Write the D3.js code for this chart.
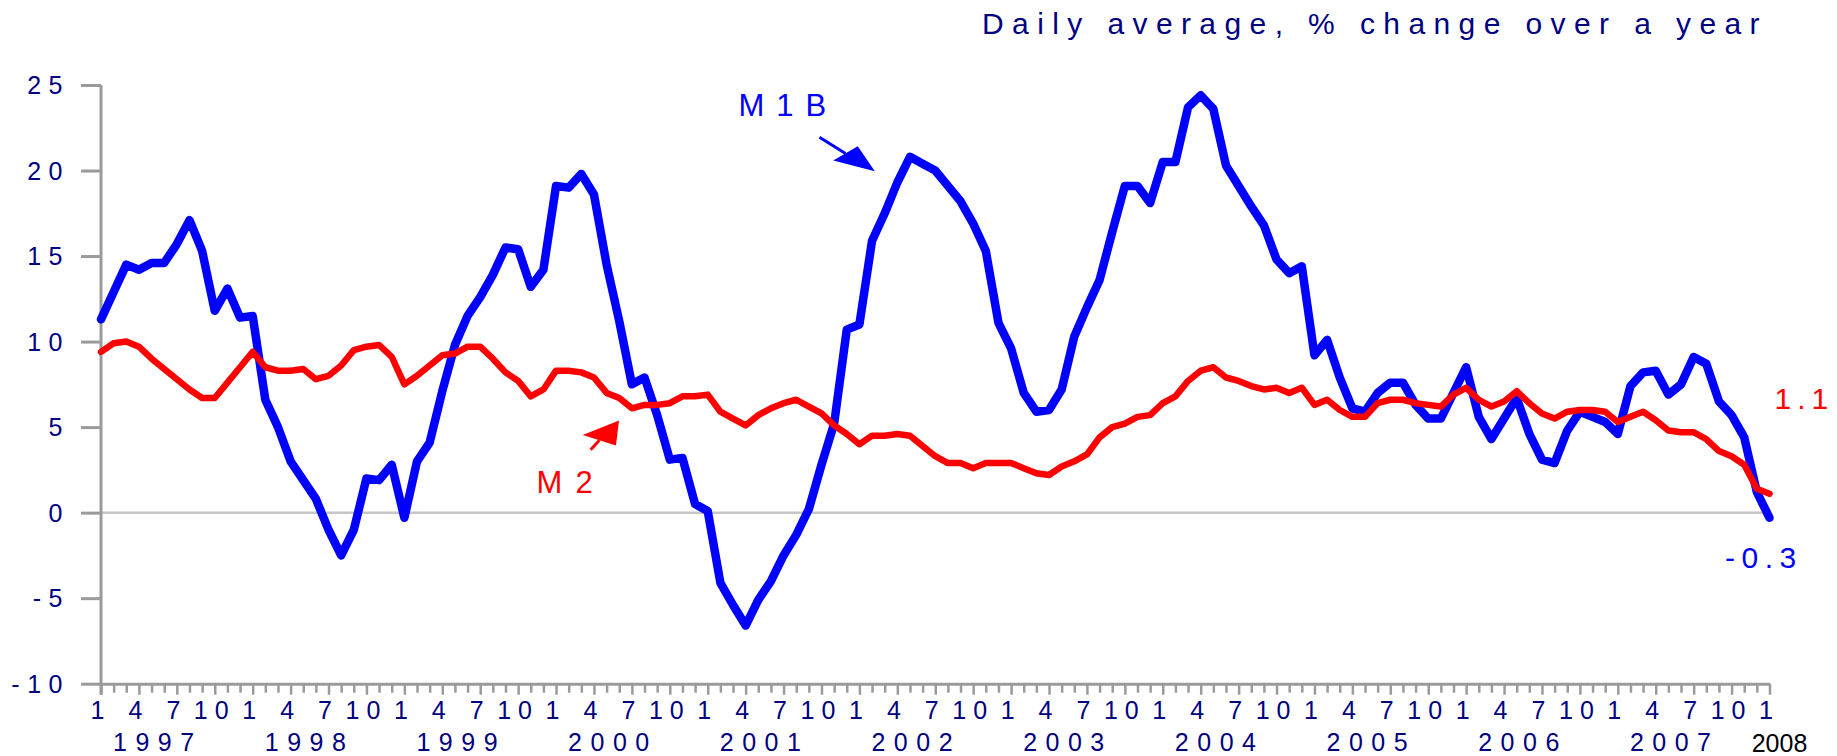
<!DOCTYPE html>
<html>
<head>
<meta charset="utf-8">
<title>M1B and M2</title>
<script src="https://d3js.org/d3.v7.min.js"></script>
<style>
	body {margin:0; background:#fff;}
	text {font-family:"Liberation Sans", Arial, sans-serif;}
</style>
</head>
<body>
<div id="chart"></div>
<script>
// monthly values, Jan 1997 .. Jan 2008
var monthLabels = ["1","4","7","10"];
var years = ["1997","1998","1999","2000","2001","2002","2003","2004","2005","2006","2007"];
var lastYear = "2008";
var yTicks = [-10,-5,0,5,10,15,20,25];

var m1b = [
	11.3,12.9,14.5,14.2,14.6,14.6,15.7,17.1,15.3,11.8,13.1,11.4,
	11.5,6.6,5.0,3.0,1.9,0.8,-1.0,-2.5,-1.0,2.0,1.9,2.8,
	-0.3,3.0,4.1,7.1,9.8,11.5,12.6,13.9,15.5,15.4,13.2,14.2,
	19.1,19.0,19.8,18.6,14.5,11.2,7.5,7.9,5.7,3.1,3.2,0.5,
	0.1,-4.1,-5.4,-6.6,-5.1,-4.0,-2.5,-1.3,0.2,2.8,5.2,10.7,
	11.0,15.9,17.5,19.3,20.8,20.4,20.0,19.1,18.2,16.9,15.3,11.1,
	9.6,7.0,5.9,6.0,7.2,10.3,12.0,13.6,16.4,19.1,19.1,18.1,
	20.5,20.5,23.7,24.4,23.6,20.3,19.1,17.9,16.8,14.8,14.0,14.4,
	9.2,10.1,7.9,6.1,5.9,7.0,7.6,7.6,6.3,5.5,5.5,7.0,
	8.5,5.6,4.3,5.5,6.7,4.6,3.1,2.9,4.8,5.9,5.6,5.3,
	4.6,7.4,8.2,8.3,6.9,7.5,9.1,8.7,6.5,5.7,4.4,1.2,
	-0.3
];

var m2 = [
	9.4,9.9,10.0,9.7,9.0,8.4,7.8,7.2,6.7,6.7,7.6,8.5,
	9.4,8.5,8.3,8.3,8.4,7.8,8.0,8.6,9.5,9.7,9.8,9.1,
	7.5,8.0,8.6,9.2,9.3,9.7,9.7,9.0,8.2,7.7,6.8,7.2,
	8.3,8.3,8.2,7.9,7.0,6.7,6.1,6.3,6.3,6.4,6.8,6.8,
	6.9,5.9,5.5,5.1,5.7,6.1,6.4,6.6,6.2,5.8,5.1,4.6,
	4.0,4.5,4.5,4.6,4.5,3.9,3.3,2.9,2.9,2.6,2.9,2.9,
	2.9,2.6,2.3,2.2,2.7,3.0,3.4,4.4,5.0,5.2,5.6,5.7,
	6.4,6.8,7.7,8.3,8.5,7.9,7.7,7.4,7.2,7.3,7.0,7.3,
	6.3,6.6,6.0,5.6,5.6,6.4,6.6,6.6,6.4,6.3,6.2,6.9,
	7.3,6.6,6.2,6.5,7.1,6.4,5.8,5.5,5.9,6.0,6.0,5.9,
	5.3,5.6,5.9,5.4,4.8,4.7,4.7,4.3,3.6,3.3,2.8,1.4,
	1.1
];

var navy = "#000080";
var axisGrey = "#9a9a9a";

var svg = d3.select("#chart").append("svg")
	.attr("width",1837)
	.attr("height",756);

var x = d3.scaleLinear().domain([0, m1b.length-1]).range([101, 1769.5]);
var y = d3.scaleLinear().domain([-10, 25]).range([683.7, 85]);
var idx = m1b.map(function(d,i){return i;});

// title
svg.append("text")
	.attr("x",982)
	.attr("y",34)
	.attr("fill",navy)
	.style("font-size","30px")
	.style("letter-spacing","8.4px")
	.text("Daily average, % change over a year");

// zero line
svg.append("line")
	.attr("x1",x(0)).attr("x2",x(m1b.length-1))
	.attr("y1",y(0)).attr("y2",y(0))
	.attr("stroke","#c6c6c6")
	.attr("stroke-width",2.5);

// y axis
var yAxis = svg.append("g")
	.attr("transform","translate("+x(0)+",0)")
	.call(d3.axisLeft(y).tickValues(yTicks).tickSize(20).tickSizeOuter(0).tickPadding(11)
		.tickFormat(function(d){return String(d);}));
yAxis.select(".domain").remove();
yAxis.selectAll(".tick line").attr("stroke",axisGrey).attr("stroke-width",3);
yAxis.selectAll(".tick text")
	.attr("fill",navy)
	.attr("dy","0.34em")
	.style("font-size","25px")
	.style("letter-spacing","7.5px");

svg.append("line")
	.attr("x1",x(0)).attr("x2",x(0))
	.attr("y1",y(25)).attr("y2",y(-10)+11)
	.attr("stroke",axisGrey)
	.attr("stroke-width",3);

// x axis, one tick a month
var xAxis = svg.append("g")
	.attr("transform","translate(0,"+y(-10)+")")
	.call(d3.axisBottom(x).tickValues(idx).tickSize(9).tickSizeOuter(0).tickFormat(""));
xAxis.select(".domain").attr("stroke",axisGrey).attr("stroke-width",3);
xAxis.selectAll(".tick line")
	.attr("stroke",axisGrey)
	.attr("stroke-width",2.5)
	.attr("y2",function(d){ return d%3==0 ? 11 : 9; });

var quarters = idx.filter(function(i){return i%3==0;});
svg.append("g").selectAll("text").data(quarters).enter()
	.append("text")
	.attr("x",function(d){return x(d);})
	.attr("y",719)
	.attr("text-anchor","middle")
	.attr("fill",navy)
	.style("font-size","25px")
	.style("letter-spacing","7px")
	.text(function(d){return monthLabels[(d/3)%4];});

svg.append("g").selectAll("text").data(years).enter()
	.append("text")
	.attr("x",function(d,i){return x(i*12+4.5);})
	.attr("y",751)
	.attr("text-anchor","middle")
	.attr("fill",navy)
	.style("font-size","25px")
	.style("letter-spacing","8.5px")
	.text(function(d){return d;});

svg.append("text")
	.attr("x",x(m1b.length-1)+10)
	.attr("y",752)
	.attr("text-anchor","middle")
	.attr("fill","#000")
	.style("font-size","25px")
	.text(lastYear);

// lines
var line = d3.line()
	.x(function(d,i){return x(i);})
	.y(function(d){return y(d);});

svg.append("path")
	.datum(m1b)
	.attr("d",line)
	.attr("fill","none")
	.attr("stroke","#0000ff")
	.attr("stroke-width",8.5)
	.attr("stroke-linejoin","round")
	.attr("stroke-linecap","round");

svg.append("path")
	.datum(m2)
	.attr("d",line)
	.attr("fill","none")
	.attr("stroke","#ff0000")
	.attr("stroke-width",6.5)
	.attr("stroke-linejoin","round")
	.attr("stroke-linecap","round");

// annotations (anchored in data units)
function arrow(a, colour) {
	svg.append("line")
		.attr("x1",x(a.tail[0])).attr("y1",y(a.tail[1]))
		.attr("x2",x(a.base[0])).attr("y2",y(a.base[1]))
		.attr("stroke",colour)
		.attr("stroke-width",3);
	svg.append("polygon")
		.attr("points",a.head.map(function(p){return x(p[0])+","+y(p[1]);}).join(" "))
		.attr("fill",colour);
}
arrow({tail:[56.84,21.95], base:[58.9,21.0], head:[[57.93,20.58],[61.22,19.96],[59.87,21.42]]}, "#0000ff");
arrow({tail:[38.74,3.68], base:[39.43,4.23], head:[[38.11,4.54],[40.98,5.38],[40.74,3.92]]}, "#ff0000");

svg.append("text")
	.attr("x",x(50.43)).attr("y",y(23.2))
	.attr("fill","#0000ff")
	.style("font-size","31px")
	.style("letter-spacing","12px")
	.text("M1B");

svg.append("text")
	.attr("x",x(34.46)).attr("y",y(1.17))
	.attr("fill","#ff0000")
	.style("font-size","31px")
	.style("letter-spacing","13px")
	.text("M2");

// end values
var n = m1b.length-1;
svg.append("text")
	.attr("x",x(n)+5)
	.attr("y",y(m2[n])-85)
	.attr("fill","#ff0000")
	.style("font-size","30px")
	.style("letter-spacing","6px")
	.text(d3.format(".1f")(m2[n]));

svg.append("text")
	.attr("x",x(n)-44.5)
	.attr("y",y(m1b[n])+50)
	.attr("fill","#0000ff")
	.style("font-size","30px")
	.style("letter-spacing","6.5px")
	.text(d3.format(".1f")(m1b[n]).replace("\u2212","-"));
</script>
</body>
</html>
